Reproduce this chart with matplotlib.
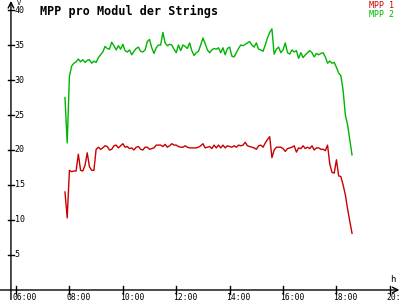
import numpy as np
import matplotlib
matplotlib.use("Agg")
import matplotlib.pyplot as plt

# 5-minute samples starting 07:50
start_h = 7 + 50 / 60
step_min = 5

mpp1 = [14.0, 10.3, 17.1, 16.9, 17.0, 17.0, 19.4, 17.1, 17.0, 17.8,
        19.6, 17.6, 17.1, 17.1, 20.1, 20.4, 20.1, 20.3, 20.6, 20.5,
        20.0, 20.1, 20.6, 20.7, 20.3, 20.6, 20.9, 20.4, 20.5, 20.2,
        20.3, 20.0, 20.4, 20.5, 20.1, 20.0, 20.4, 20.4, 20.1, 20.2,
        20.3, 20.7, 20.7, 20.7, 20.5, 20.8, 20.4, 20.6, 20.9, 20.7,
        20.7, 20.5, 20.4, 20.4, 20.6, 20.4, 20.3, 20.3, 20.3, 20.3,
        20.4, 20.6, 20.9, 20.3, 20.4, 20.5, 20.2, 20.7, 20.3, 20.7,
        20.3, 20.7, 20.3, 20.6, 20.5, 20.4, 20.6, 20.4, 20.7, 20.6,
        20.7, 21.1, 20.6, 20.5, 20.4, 20.3, 20.1, 20.6, 20.7, 20.4,
        21.0, 21.5, 21.9, 18.9, 20.0, 20.4, 20.4, 20.4, 20.2, 19.8,
        20.2, 20.3, 20.4, 20.6, 19.7, 20.3, 20.2, 20.6, 20.2, 20.4,
        20.2, 20.6, 20.0, 20.3, 20.3, 20.1, 20.1, 19.9, 20.7, 18.0,
        16.8, 16.7, 18.6, 16.3, 16.2, 15.0, 13.6, 11.6, 9.8, 8.1]

mpp2 = [27.5, 21.0, 30.5, 32.0, 32.4, 32.6, 33.0, 32.6, 32.9, 32.5,
        32.8, 32.9, 32.4, 32.7, 32.5, 33.2, 33.6, 34.0, 34.8, 34.5,
        34.4, 35.4, 34.9, 34.3, 34.9, 34.4, 35.1, 34.2, 34.0, 34.3,
        33.6, 34.1, 34.5, 34.7, 34.1, 34.0, 34.3, 35.5, 35.8, 34.6,
        33.8, 34.6, 35.0, 35.0, 36.8, 35.3, 34.9, 35.1, 35.0, 34.4,
        33.9, 35.0, 34.2, 35.0, 34.8, 34.5, 35.3, 34.2, 33.5, 33.9,
        34.1, 35.0, 36.0, 35.2, 34.3, 33.9, 34.3, 34.5, 34.4, 34.6,
        33.9, 34.6, 33.6, 34.5, 34.7, 33.4, 33.3, 33.9, 34.5, 35.0,
        34.9, 35.1, 35.3, 35.5, 35.0, 34.7, 35.3, 34.4, 34.3, 34.1,
        35.0, 36.0, 36.8, 37.3, 33.7, 34.4, 34.7, 33.9, 34.3, 35.3,
        33.9, 33.7, 34.3, 34.0, 34.2, 33.1, 33.9, 33.2, 33.6, 33.9,
        34.2, 33.9, 33.3, 33.8, 33.6, 33.8, 33.9, 33.3, 32.4, 32.7,
        32.4, 32.5, 31.8, 31.0, 30.6, 28.5, 25.0, 23.6, 21.5, 19.3]

series_names = ["MPP 1", "MPP 2"]
series_colors = ["#c80000", "#00b400"]

y_ticks = [5, 10, 15, 20, 25, 30, 35, 40]
x_ticks = [6, 8, 10, 12, 14, 16, 18, 20]
x_ticklabels = ["06:00", "08:00", "10:00", "12:00", "14:00", "16:00", "18:00", "20:"]

hours = start_h + np.arange(len(mpp1)) * step_min / 60

fig = plt.figure(figsize=(4, 3), dpi=100)
ax = fig.add_axes([0, 0, 1, 1])
ax.set_xlim(5.40, 20.38)
ax.set_ylim(-1.43, 41.43)
ax.axis("off")

mono = "DejaVu Sans Mono"
x0 = 5.81  # y axis position
ax.annotate("", xy=(x0, 41.3), xytext=(x0, -1.43),
            arrowprops=dict(arrowstyle="->", lw=1, color="black", shrinkA=0, shrinkB=0))
ax.annotate("", xy=(20.36, 0), xytext=(5.40, 0),
            arrowprops=dict(arrowstyle="->", lw=1, color="black", shrinkA=0, shrinkB=0))

for v in y_ticks:
    ax.plot([x0 - 0.11, x0 + 0.11], [v, v], color="black", lw=1)
    ax.text(x0 + 0.14, v, str(v), fontsize=6, family=mono, va="center", ha="left")
for h, lab in zip(x_ticks, x_ticklabels):
    ax.plot([h, h], [-0.55, 0.55], color="black", lw=1)
    ax.text(h - 0.12, -0.45, lab, fontsize=5.8, family=mono, va="top", ha="left")

ax.text(x0 + 0.22, 41.43, "V", fontsize=5, family=mono, va="top", ha="left")
ax.text(20.0, 0.8, "h", fontsize=6.5, family=mono, va="bottom", ha="left")

ax.plot(hours, mpp2, color=series_colors[1], lw=1)
ax.plot(hours, mpp1, color=series_colors[0], lw=1)

ax.text(0.1, 0.985, "MPP pro Modul der Strings", transform=fig.transFigure,
        fontsize=8.5, family=mono, weight="bold", va="top", ha="left")
ax.text(0.985, 0.995, series_names[0], transform=fig.transFigure, color=series_colors[0],
        fontsize=6, family=mono, va="top", ha="right")
ax.text(0.985, 0.967, series_names[1], transform=fig.transFigure, color=series_colors[1],
        fontsize=6, family=mono, va="top", ha="right")

fig.savefig("out.png", dpi=100)
